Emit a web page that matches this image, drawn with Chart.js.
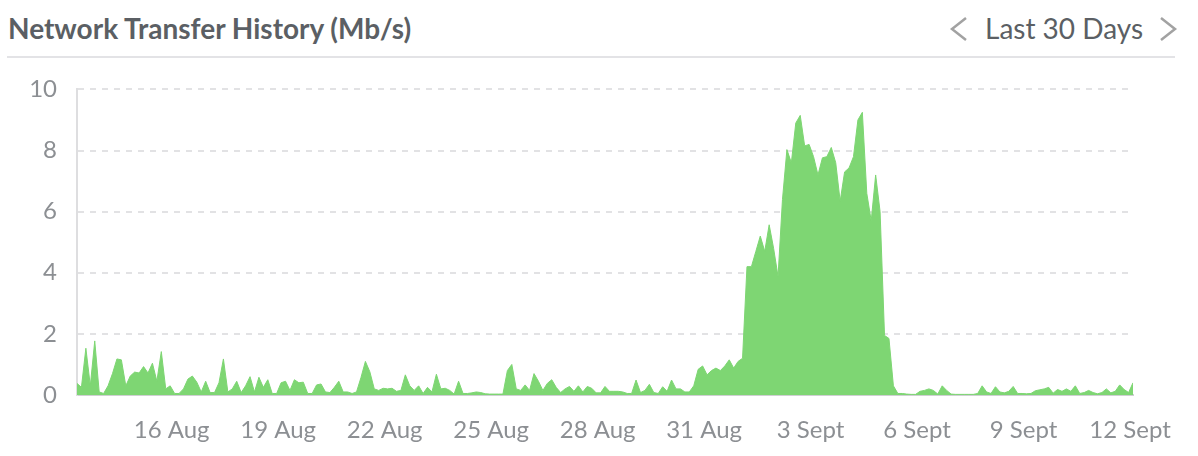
<!DOCTYPE html>
<html>
<head>
<meta charset="utf-8">
<script src="https://cdn.jsdelivr.net/npm/chart.js@4/dist/chart.umd.min.js"></script>
<style>
    html, body { margin: 0; padding: 0; background: #fff; }
    body { width: 1198px; height: 456px; position: relative; overflow: hidden; font-family: Lato, sans-serif; }
    .title { position: absolute; left: 8px; top: 12px; font-size: 28px; font-weight: 700; color: #5b5f64; line-height: 32px; white-space: nowrap; }
    .range { position: absolute; left: 985px; top: 12px; font-size: 28px; color: #5b5f64; line-height: 32px; white-space: nowrap; }
    .rule { position: absolute; left: 7px; top: 56px; width: 1168px; height: 2px; background: #e3e3e6; }
    .nav { position: absolute; left: 0; top: 0; }
    .chart-box { position: absolute; left: 0; top: 55px; width: 1198px; height: 401px; }
</style>
</head>
<body>
<div class="title">Network Transfer History (Mb/s)</div>
<svg class="nav" width="1198" height="60">
    <polyline points="966,18 952,29 966,40" fill="none" stroke="#a2a2a2" stroke-width="2.5"/>
    <polyline points="1161,18 1175,29 1161,40" fill="none" stroke="#a2a2a2" stroke-width="2.5"/>
</svg>
<div class="range">Last 30 Days</div>
<div class="rule"></div>
<div class="chart-box"><canvas id="transferChart"></canvas></div>
<script>
// day 0 = 13 Aug 00:00, one reading every 3 hours
const startDay = 1 / 3;
const stepDays = 0.125;

const transferMbps = [
    0.38, 0.25, 1.53, 0.3, 1.77, 0.1, 0.05, 0.3, 0.7, 1.18,
    1.15, 0.3, 0.62, 0.75, 0.72, 0.93, 0.72, 1.04, 0.45, 1.42,
    0.2, 0.3, 0.05, 0.05, 0.2, 0.52, 0.62, 0.42, 0.1, 0.45,
    0.08, 0.08, 0.4, 1.18, 0.1, 0.2, 0.45, 0.08, 0.3, 0.6,
    0.1, 0.58, 0.25, 0.5, 0.05, 0.05, 0.4, 0.45, 0.15, 0.5,
    0.4, 0.42, 0.05, 0.05, 0.33, 0.36, 0.1, 0.08, 0.25, 0.45,
    0.1, 0.1, 0.05, 0.1, 0.57, 1.1, 0.76, 0.2, 0.15, 0.22,
    0.2, 0.22, 0.12, 0.15, 0.66, 0.3, 0.15, 0.3, 0.05, 0.25,
    0.1, 0.68, 0.2, 0.22, 0.15, 0.03, 0.45, 0.05, 0.05, 0.07,
    0.1, 0.08, 0.04, 0.03, 0.03, 0.03, 0.03, 0.8, 1.0, 0.2,
    0.15, 0.33, 0.15, 0.7, 0.45, 0.15, 0.38, 0.5, 0.25, 0.08,
    0.2, 0.28, 0.12, 0.3, 0.1, 0.28, 0.22, 0.07, 0.07, 0.28,
    0.12, 0.12, 0.12, 0.1, 0.05, 0.05, 0.49, 0.08, 0.15, 0.35,
    0.08, 0.05, 0.27, 0.12, 0.49, 0.2, 0.2, 0.1, 0.1, 0.3,
    0.84, 0.95, 0.66, 0.8, 0.88, 0.8, 0.95, 1.15, 0.88, 1.1,
    1.2, 4.2, 4.2, 4.7, 5.2, 4.7, 5.57, 4.8, 3.88, 6.4,
    8.03, 7.6, 8.9, 9.15, 8.15, 8.2, 7.8, 7.2, 7.76, 7.8,
    8.1, 7.6, 6.34, 7.3, 7.43, 7.8, 9.0, 9.25, 6.6, 5.7,
    7.2, 6.0, 1.95, 1.85, 0.3, 0.05, 0.05, 0.03, 0.02, 0.02,
    0.12, 0.15, 0.2, 0.15, 0.03, 0.3, 0.15, 0.03, 0.02, 0.02,
    0.02, 0.02, 0.02, 0.05, 0.3, 0.1, 0.05, 0.27, 0.1, 0.07,
    0.12, 0.28, 0.05, 0.05, 0.04, 0.05, 0.14, 0.17, 0.2, 0.25,
    0.06, 0.18, 0.12, 0.2, 0.12, 0.3, 0.05, 0.08, 0.15, 0.08,
    0.04, 0.08, 0.2, 0.07, 0.12, 0.33, 0.18, 0.08, 0.4
];

const tickDays = [3, 6, 9, 12, 15, 18, 21, 24, 27, 30];
const tickLabels = ['16 Aug', '19 Aug', '22 Aug', '25 Aug', '28 Aug', '31 Aug', '3 Sept', '6 Sept', '9 Sept', '12 Sept'];
const yTicks = [0, 2, 4, 6, 8, 10];

const points = transferMbps.map((v, i) => ({ x: startDay + i * stepDays, y: v }));

document.addEventListener('DOMContentLoaded', function() {
    const ctx = document.getElementById('transferChart').getContext('2d');

    new Chart(ctx, {
        type: 'line',
        data: {
            datasets: [{
                label: 'Transfer',
                data: points,
                fill: 'origin',
                backgroundColor: '#7ed673',
                borderColor: '#7ed673',
                borderWidth: 1,
                pointRadius: 0,
                tension: 0
            }]
        },
        options: {
            responsive: true,
            maintainAspectRatio: false,
            animation: false,
            layout: {
                padding: { left: 0, right: 65, top: 22, bottom: 0 }
            },
            scales: {
                x: {
                    type: 'linear',
                    min: points[0].x,
                    max: points[points.length - 1].x,
                    afterBuildTicks: function(axis) {
                        axis.ticks = tickDays.map(d => ({ value: d }));
                    },
                    afterFit: function(axis) { axis.height = 61; },
                    grid: { display: false },
                    border: { display: true, color: '#cfcfd2', width: 2 },
                    ticks: {
                        autoSkip: false,
                        maxRotation: 0,
                        padding: 13,
                        color: '#8c8f93',
                        font: { family: 'Lato', size: 24 },
                        callback: function(value) {
                            const k = tickDays.indexOf(value);
                            return k >= 0 ? tickLabels[k] : '';
                        }
                    }
                },
                y: {
                    min: 0,
                    max: 10,
                    afterBuildTicks: function(axis) {
                        axis.ticks = yTicks.map(v => ({ value: v }));
                    },
                    afterFit: function(axis) { axis.width = 77; },
                    grid: {
                        color: '#e2e2e4',
                        lineWidth: 2,
                        drawTicks: false
                    },
                    border: { display: true, color: '#dedee0', width: 2, dash: [6, 6] },
                    ticks: {
                        padding: 20,
                        color: '#8c8f93',
                        font: { family: 'Lato', size: 24 }
                    }
                }
            },
            plugins: {
                legend: { display: false },
                tooltip: { enabled: false }
            }
        }
    });
});
</script>
</body>
</html>
